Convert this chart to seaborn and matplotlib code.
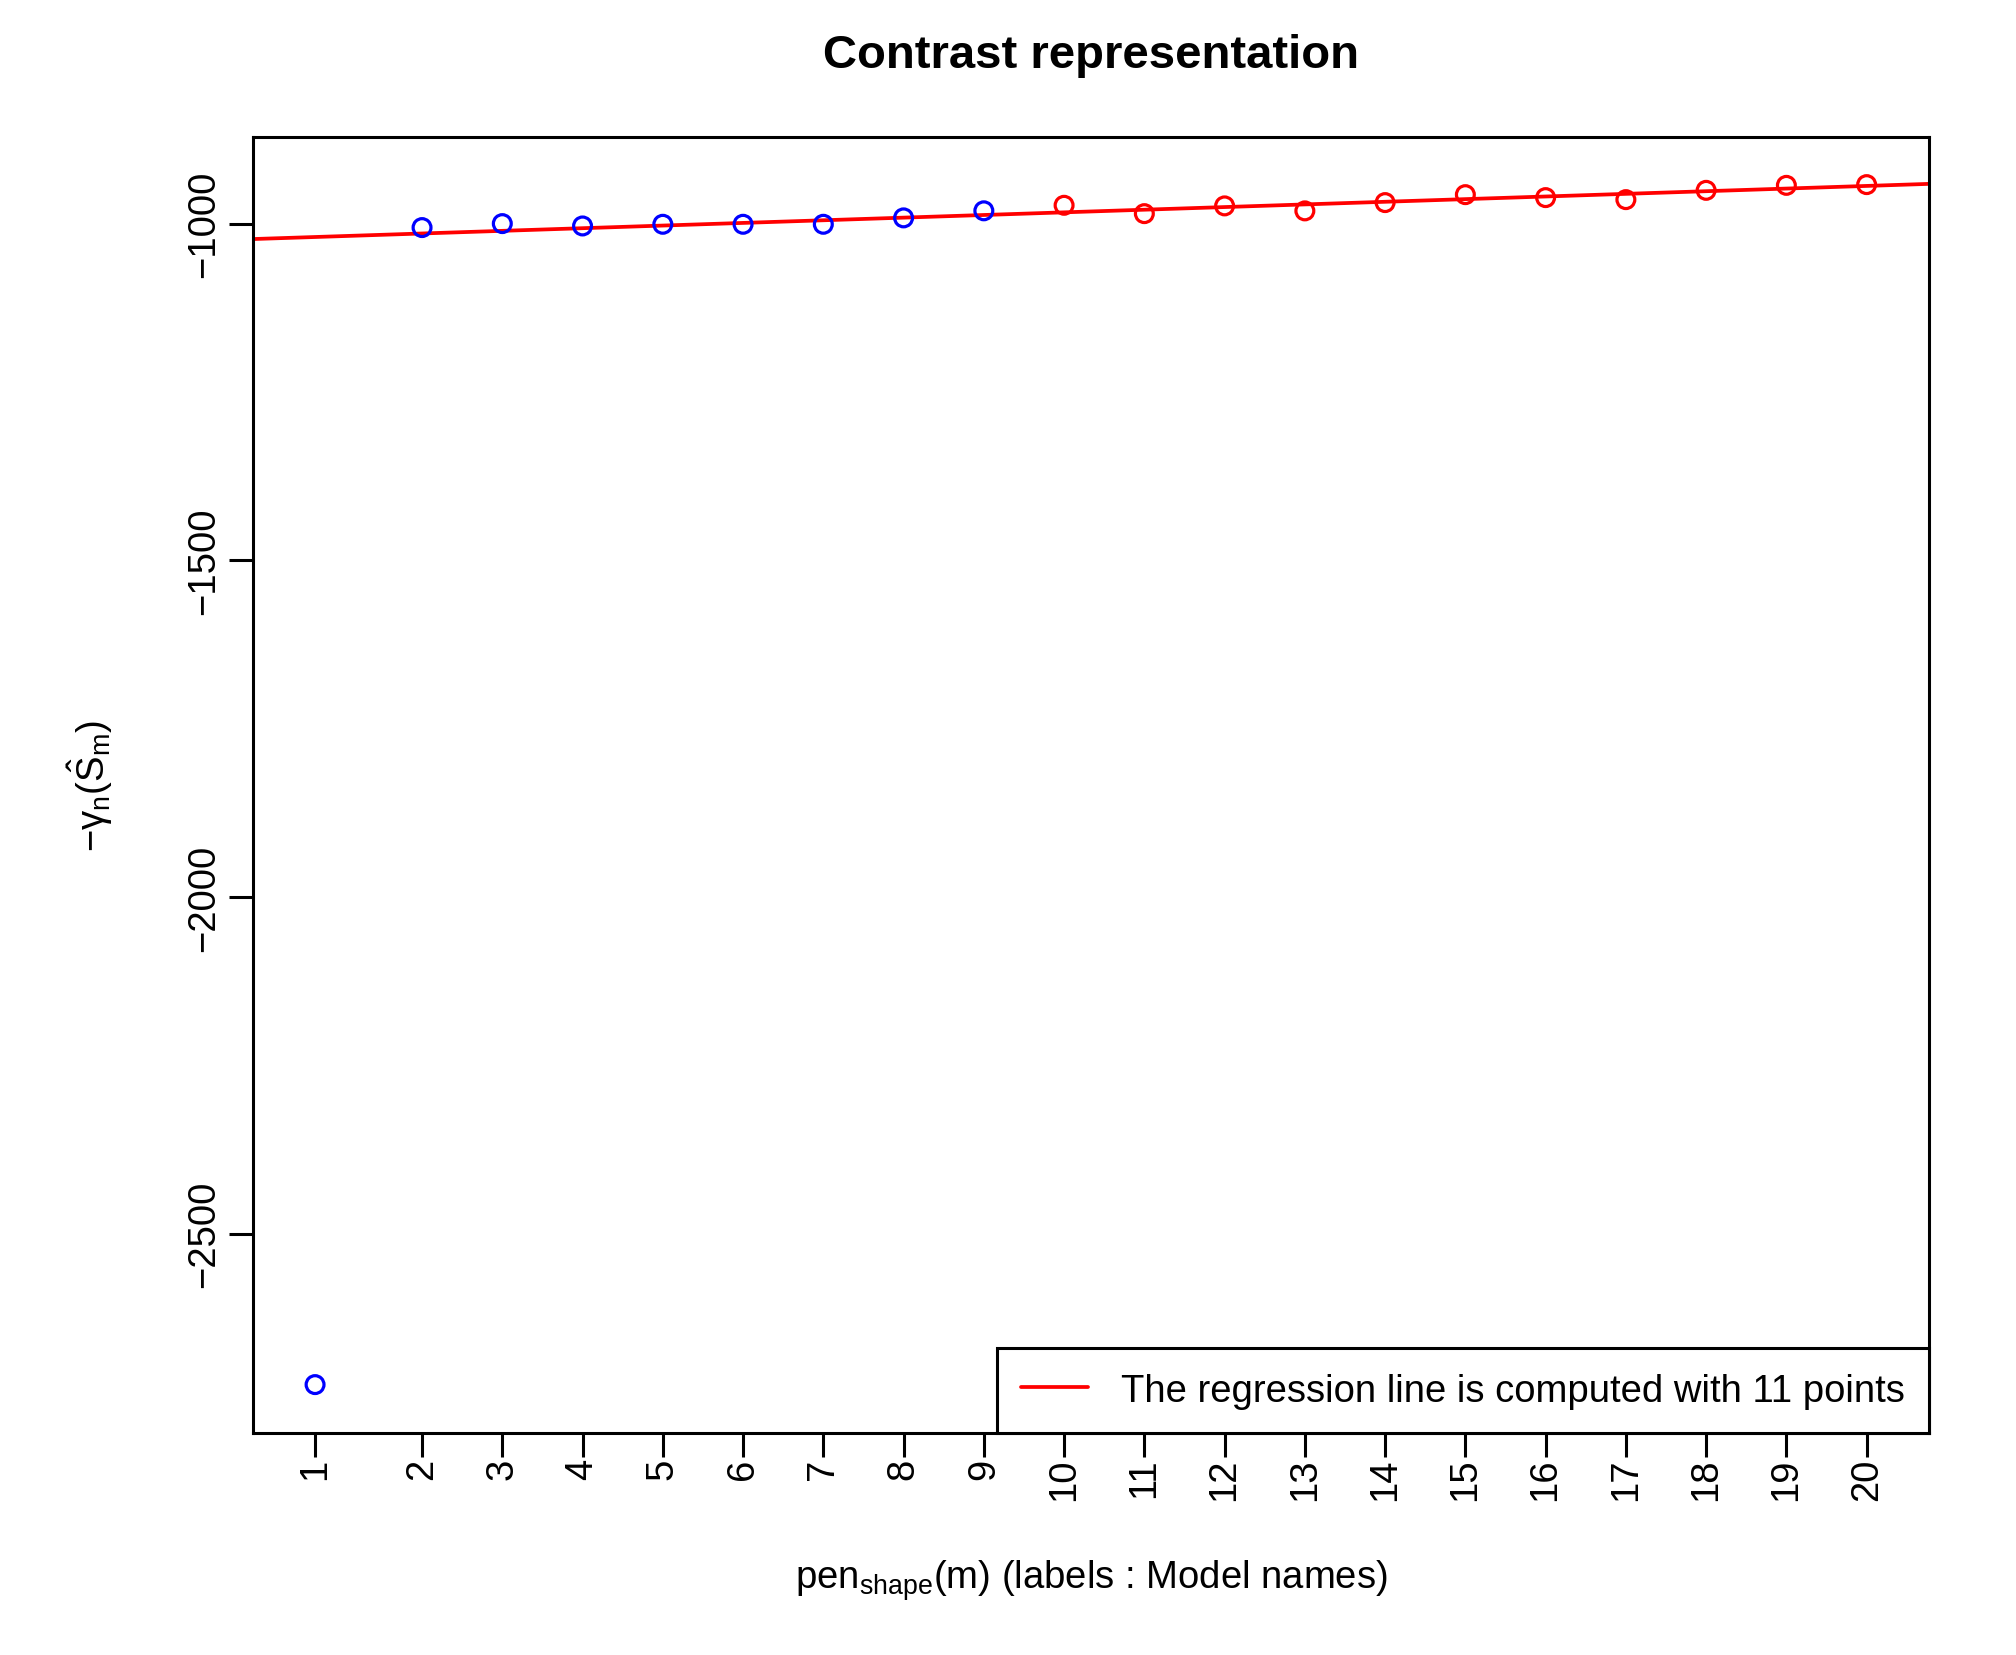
import numpy as np
import pandas as pd
import matplotlib
matplotlib.use("Agg")
import matplotlib.pyplot as plt
import seaborn as sns

# ---- data ----
model_names = ["1", "2", "3", "4", "5", "6", "7", "8", "9", "10",
               "11", "12", "13", "14", "15", "16", "17", "18", "19", "20"]
pen_shape = [0.667, 2, 3, 4, 5, 6, 7, 8, 9, 10,
             11, 12, 13, 14, 15, 16, 17, 18, 19, 20]
contrast = [-2724.0, -1005.9, -1000.0, -1003.5, -1001.0, -1001.0, -1001.0,
            -991.5, -981.0, -972.8, -985.2, -973.7, -981.1, -968.8,
            -957.0, -961.4, -964.4, -950.6, -943.2, -942.1]
in_regression = [False] * 9 + [True] * 11
y_ticks = [-2500, -2000, -1500, -1000]
legend_text = "The regression line is computed with 11 points"

df = pd.DataFrame({"pen": pen_shape, "contrast": contrast,
                   "group": ["used" if f else "unused" for f in in_regression]})

sns.set_style("ticks")
plt.rcParams["font.family"] = ["Liberation Sans", "DejaVu Sans"]
plt.rcParams["mathtext.fontset"] = "custom"
plt.rcParams["mathtext.rm"] = "Liberation Sans"
plt.rcParams["mathtext.it"] = "Liberation Sans:italic"
plt.rcParams["mathtext.default"] = "regular"
plt.rcParams["text.color"] = "black"
plt.rcParams["axes.labelcolor"] = "black"
plt.rcParams["xtick.color"] = "black"
plt.rcParams["ytick.color"] = "black"

DPI = 100
FS = 27.5
fig = plt.figure(figsize=(20.16, 16.56), dpi=DPI)
ax = fig.add_axes([0.1255, 0.1343, 0.8312, 0.7826])

xr = max(pen_shape) - min(pen_shape)
yr = max(contrast) - min(contrast)
xlim = (min(pen_shape) - 0.04 * xr, max(pen_shape) + 0.04 * xr)
ylim = (min(contrast) - 0.04 * yr, max(contrast) + 0.04 * yr)
ax.set_xlim(*xlim)
ax.set_ylim(*ylim)

sns.scatterplot(data=df, x="pen", y="contrast", hue="group",
                palette={"unused": "#0000FF", "used": "#FF0000"},
                s=165, linewidth=2.3, legend=False, ax=ax, zorder=3)
coll = ax.collections[0]
fcs = coll.get_facecolors()
coll.set_edgecolors(fcs)
coll.set_facecolors("none")
coll.set_linewidths(2.3)

sns.regplot(data=df[df["group"] == "used"], x="pen", y="contrast",
            scatter=False, ci=None, truncate=False, color="#FF0000",
            line_kws={"linewidth": 2.7}, ax=ax)
reg_line = ax.lines[-1]

ax.set_xlim(*xlim)
ax.set_ylim(*ylim)

ax.set_xticks(pen_shape)
ax.set_xticklabels(model_names, rotation=90)
ax.set_yticks(y_ticks)
ax.set_yticklabels(["\u2212" + str(abs(v)) for v in y_ticks], rotation=90, va="center")

ax.tick_params(axis="both", length=17, width=2.2, color="black",
               labelsize=FS, labelcolor="black", direction="out")
ax.tick_params(axis="x", pad=1)
ax.tick_params(axis="y", pad=5)
for sp in ax.spines.values():
    sp.set_visible(True)
    sp.set_color("black")
    sp.set_linewidth(2.2)

ax.set_title("Contrast representation", fontsize=34, fontweight="bold",
             pad=50, color="black")

ax.set_xlabel(r"$pen_{shape}(m)$ (labels : Model names)", fontsize=FS)
ax.xaxis.set_label_coords(0.5, -0.1137)
ax.xaxis.label.set_va("center")
ax.set_ylabel(r"$-\gamma_n(\hat{S}_m)$", fontsize=FS)
ax.yaxis.set_label_coords(-0.0973, 0.5)
ax.yaxis.label.set_va("center")

leg = ax.legend(handles=[reg_line], labels=[legend_text], loc="lower right",
                borderaxespad=0, fontsize=FS, fancybox=False, framealpha=1,
                edgecolor="black", handlelength=1.75, handletextpad=0.87,
                borderpad=0.63)
leg.get_frame().set_linewidth(2.2)

fig.savefig("out.png", dpi=DPI)
